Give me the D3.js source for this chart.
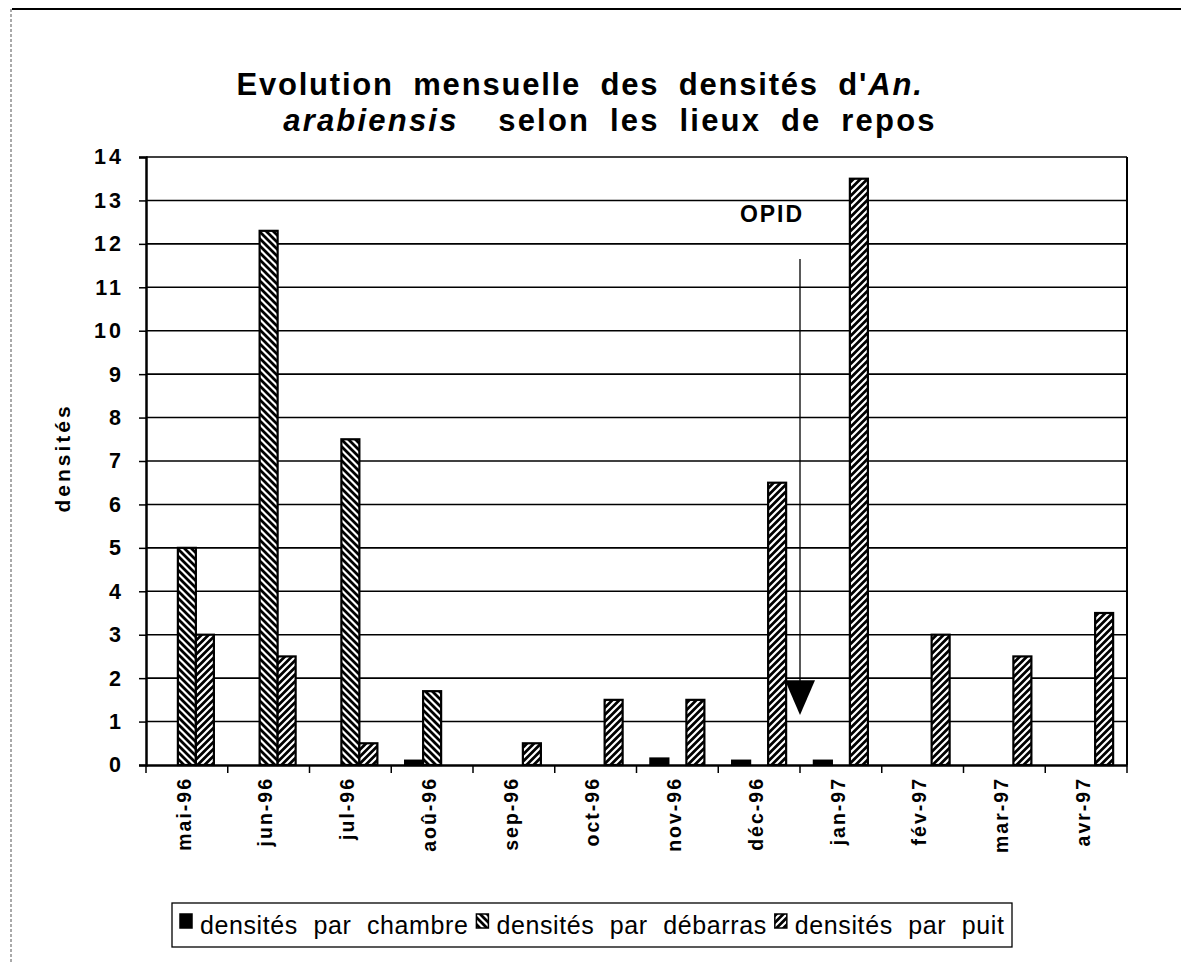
<!DOCTYPE html>
<html><head><meta charset="utf-8">
<script src="https://cdn.jsdelivr.net/npm/d3@7"></script>
<style>body{margin:0;background:#fff}svg{display:block}</style>
</head><body>
<script>
const months = ["mai-96","jun-96","jul-96","aoû-96","sep-96","oct-96","nov-96","déc-96","jan-97","fév-97","mar-97","avr-97"];
const seriesNames = ["densités par chambre","densités par débarras","densités par puit"];
const chambre  = [0,0,0,0.1,0,0,0.15,0.1,0.1,0,0,0];
const debarras = [5,12.3,7.5,1.7,0,0,0,0,0,0,0,0];
const puit     = [3,2.5,0.5,0,0.5,1.5,1.5,6.5,13.5,3,2.5,3.5];
const yTicks = d3.range(0,15);
const seriesValues = [chambre, debarras, puit];

const W=1181,H=962;
const svg=d3.select("body").append("svg").attr("width",W).attr("height",H);
const defs=svg.append("defs");
const p1=defs.append("pattern").attr("id","pDeb").attr("patternUnits","userSpaceOnUse").attr("width",7).attr("height",7);
p1.append("rect").attr("width",7).attr("height",7).attr("fill","#fff");
p1.append("path").attr("d","M-1,-1 L8,8 M-1,6 L1,8 M6,-1 L8,1").attr("stroke","#000").attr("stroke-width",2.8);
const p2=defs.append("pattern").attr("id","pPuit").attr("patternUnits","userSpaceOnUse").attr("width",7).attr("height",7);
p2.append("rect").attr("width",7).attr("height",7).attr("fill","#000");
p2.append("path").attr("d","M-1,8 L8,-1 M-1,1 L1,-1 M6,8 L8,6").attr("stroke","#fff").attr("stroke-width",2.2);
const fills=["#000","url(#pDeb)","url(#pPuit)"];

svg.append("line").attr("x1",12).attr("x2",1181).attr("y1",9).attr("y2",9).attr("stroke","#000").attr("stroke-width",2);
svg.append("line").attr("x1",11).attr("x2",11).attr("y1",9).attr("y2",962).attr("stroke","#555").attr("stroke-width",1).attr("stroke-dasharray","3,2");

const L=146,R=1127,T=157,B=765;
const x0=d3.scaleBand().domain(months).range([L,R]).paddingInner(0).paddingOuter(0);
const x1=d3.scaleBand().domain(seriesNames).range([0,x0.bandwidth()]).paddingInner(0).paddingOuter(0.77);
const y=d3.scaleLinear().domain([0,14]).range([B,T]);

const font="'Liberation Sans', Arial, Helvetica, sans-serif";

svg.append("g").selectAll("line").data(yTicks.filter(d=>d>0)).join("line")
 .attr("x1",L).attr("x2",R).attr("y1",d=>y(d)).attr("y2",d=>y(d)).attr("stroke","#000").attr("stroke-width",1.6);
svg.append("line").attr("x1",R).attr("x2",R).attr("y1",T).attr("y2",B).attr("stroke","#000").attr("stroke-width",2);

const g=svg.append("g");
months.forEach((m,i)=>{
  seriesValues.forEach((vals,s)=>{
    const v=vals[i]; if(!v) return;
    g.append("rect").attr("x",x0(m)+x1(seriesNames[s])).attr("y",y(v)).attr("width",x1.bandwidth()).attr("height",y(0)-y(v))
     .attr("fill",fills[s]).attr("stroke","#000").attr("stroke-width",2.2);
  });
});

const ya=svg.append("g").attr("transform",`translate(${L},0)`).call(d3.axisLeft(y).tickValues(yTicks).tickSize(7).tickPadding(15).tickFormat(d3.format("d")));
ya.select(".domain").attr("stroke-width",2.5);
ya.selectAll(".tick line").attr("stroke-width",1.5);
ya.selectAll("text").attr("font-family",font).attr("font-size",21.5).attr("font-weight","bold").attr("letter-spacing",3);

const xa=svg.append("g").attr("transform",`translate(0,${B})`).call(d3.axisBottom(x0).tickSize(0).tickFormat(d=>d));
xa.select(".domain").attr("stroke-width",2.5);
xa.selectAll(".tick text").attr("font-family",font).attr("font-size",19.5).attr("font-weight","bold").attr("letter-spacing",2)
  .attr("transform","rotate(-90)").attr("text-anchor","end").attr("x",-12).attr("y",-3).attr("dy","0.35em");
svg.append("g").selectAll("line").data(months.concat(["end"])).join("line")
 .attr("x1",d=>d==="end"?R:x0(d)).attr("x2",d=>d==="end"?R:x0(d)).attr("y1",B).attr("y2",B+8).attr("stroke","#000").attr("stroke-width",1.5);

svg.append("text").attr("transform","translate(70,458) rotate(-90)").attr("text-anchor","middle")
 .attr("font-family",font).attr("font-size",21).attr("font-weight","bold").attr("letter-spacing",3).text("densités");

const t1=svg.append("text").attr("x",580).attr("y",95).attr("text-anchor","middle").attr("font-family",font).attr("font-size",31).attr("font-weight","bold").attr("word-spacing",9).attr("letter-spacing",1.8);
t1.append("tspan").text("Evolution mensuelle des densités d'");
t1.append("tspan").attr("font-style","italic").text("An.");
const t2=svg.append("text").attr("x",610).attr("y",131).attr("text-anchor","middle").attr("font-family",font).attr("font-size",31).attr("font-weight","bold").attr("word-spacing",9).attr("letter-spacing",2.2);
t2.append("tspan").attr("font-style","italic").text("arabiensis");
t2.append("tspan").text("\u00a0 selon les lieux de repos");

const ax=x0("jan-97");
svg.append("text").attr("x",ax-28).attr("y",y(12.5)).attr("text-anchor","middle").attr("font-family",font).attr("font-size",23).attr("font-weight","bold").attr("letter-spacing",2).text("OPID");
svg.append("line").attr("x1",ax).attr("x2",ax).attr("y1",y(11.65)).attr("y2",y(1.9)).attr("stroke","#000").attr("stroke-width",1.3);
svg.append("path").attr("d",`M${ax-15},${y(1.95)} L${ax+15},${y(1.95)} L${ax},${y(1.15)} Z`).attr("fill","#000");

svg.append("rect").attr("x",172).attr("y",903).attr("width",840).attr("height",44).attr("fill","none").attr("stroke","#000").attr("stroke-width",1.3);
const lg=svg.append("g");
let lx=180;
seriesNames.forEach((n,i)=>{
  lg.append("rect").attr("x",lx).attr("y",914).attr("width",12).attr("height",14).attr("fill",fills[i]).attr("stroke","#000").attr("stroke-width",1.5);
  const tx=lg.append("text").attr("x",lx+20).attr("y",934).attr("font-family",font).attr("font-size",25).attr("letter-spacing",0.6).attr("word-spacing",8).text(n);
  lx+=20+tx.node().getComputedTextLength()+8;
});
</script>
</body></html>
